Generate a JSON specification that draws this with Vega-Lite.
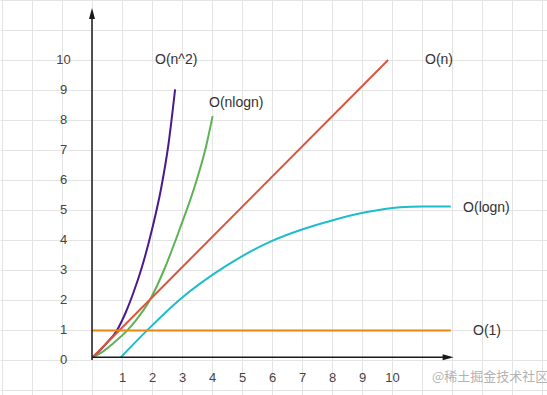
{
  "$schema": "https://vega.github.io/schema/vega-lite/v6.json",
  "width": 547,
  "height": 395,
  "autosize": "none",
  "padding": 0,
  "background": "#ffffff",
  "config": {
    "view": {"stroke": null},
    "axis": {
      "gridColor": "#e4e4e4",
      "gridWidth": 1,
      "domain": false,
      "ticks": false,
      "labelFont": "Liberation Sans",
      "labelFontSize": 13,
      "labelColor": "#444444",
      "title": null
    }
  },
  "datasets": {
    "curves": [
      {"series": "O(n^2)", "x": 0.02, "y": 0.09},
      {"series": "O(n^2)", "x": 0.2, "y": 0.25},
      {"series": "O(n^2)", "x": 0.5, "y": 0.58},
      {"series": "O(n^2)", "x": 0.82, "y": 0.97},
      {"series": "O(n^2)", "x": 1.13, "y": 1.6},
      {"series": "O(n^2)", "x": 1.4, "y": 2.3},
      {"series": "O(n^2)", "x": 1.65, "y": 3.05},
      {"series": "O(n^2)", "x": 2.0, "y": 4.35},
      {"series": "O(n^2)", "x": 2.3, "y": 5.7},
      {"series": "O(n^2)", "x": 2.55, "y": 7.2},
      {"series": "O(n^2)", "x": 2.77, "y": 9.02},
      {"series": "O(nlogn)", "x": 0.02, "y": 0.09},
      {"series": "O(nlogn)", "x": 0.27, "y": 0.22},
      {"series": "O(nlogn)", "x": 0.71, "y": 0.56},
      {"series": "O(nlogn)", "x": 1.16, "y": 0.97},
      {"series": "O(nlogn)", "x": 1.47, "y": 1.33},
      {"series": "O(nlogn)", "x": 1.93, "y": 2.0},
      {"series": "O(nlogn)", "x": 2.4, "y": 3.0},
      {"series": "O(nlogn)", "x": 2.9, "y": 4.3},
      {"series": "O(nlogn)", "x": 3.49, "y": 6.0},
      {"series": "O(nlogn)", "x": 3.8, "y": 7.11},
      {"series": "O(nlogn)", "x": 4.02, "y": 8.13},
      {"series": "O(n)", "x": 0.02, "y": 0.09},
      {"series": "O(n)", "x": 9.87, "y": 10.0},
      {"series": "O(logn)", "x": 0.96, "y": 0.09},
      {"series": "O(logn)", "x": 1.82, "y": 0.97},
      {"series": "O(logn)", "x": 2.91, "y": 2.0},
      {"series": "O(logn)", "x": 4.43, "y": 3.11},
      {"series": "O(logn)", "x": 5.93, "y": 3.94},
      {"series": "O(logn)", "x": 7.0, "y": 4.35},
      {"series": "O(logn)", "x": 8.03, "y": 4.66},
      {"series": "O(logn)", "x": 9.16, "y": 4.93},
      {"series": "O(logn)", "x": 10.27, "y": 5.09},
      {"series": "O(logn)", "x": 11.0, "y": 5.12},
      {"series": "O(logn)", "x": 11.96, "y": 5.12},
      {"series": "O(1)", "x": 0.0, "y": 0.98},
      {"series": "O(1)", "x": 11.96, "y": 0.98}
    ],
    "labels": [
      {"text": "O(n^2)", "x": 2.1, "y": 10.0},
      {"text": "O(nlogn)", "x": 3.9, "y": 8.57},
      {"text": "O(n)", "x": 11.1, "y": 10.0},
      {"text": "O(logn)", "x": 12.37, "y": 5.07},
      {"text": "O(1)", "x": 12.7, "y": 0.97}
    ],
    "axes": [
      {"x": 0.0, "y": 0.0, "x2": 0.0, "y2": 11.4},
      {"x": 0.0, "y": 0.09, "x2": 11.75, "y2": 0.09}
    ],
    "arrows": [
      {"dir": "up", "x": 0.0, "y": 11.55},
      {"dir": "right", "x": 11.87, "y": 0.09}
    ],
    "marks": [
      {"text": "@稀土掘金技术社区", "x": 11.33, "y": -0.57}
    ]
  },
  "encoding": {
    "x": {
      "field": "x",
      "type": "quantitative",
      "scale": {"domain": [-3.0667, 15.1667], "nice": false, "zero": false},
      "axis": {
        "orient": "bottom",
        "offset": -38,
        "values": [-3, -2, -1, 0, 1, 2, 3, 4, 5, 6, 7, 8, 9, 10, 11, 12, 13, 14, 15],
        "grid": true,
        "labelBaseline": "middle",
        "labelPadding": 20,
        "labelExpr": "datum.value >= 1 && datum.value <= 10 ? datum.label : ''"
      }
    },
    "y": {
      "field": "y",
      "type": "quantitative",
      "scale": {"domain": [-1.1667, 12], "nice": false, "zero": false},
      "axis": {
        "orient": "left",
        "offset": -92,
        "values": [-1, 0, 1, 2, 3, 4, 5, 6, 7, 8, 9, 10, 11, 12],
        "grid": true,
        "labelAlign": "center",
        "labelBaseline": "middle",
        "labelPadding": 29,
        "labelExpr": "datum.value >= 0 && datum.value <= 10 ? datum.label : ''"
      }
    }
  },
  "layer": [
    {
      "data": {"name": "curves"},
      "mark": {"type": "line", "interpolate": "monotone", "strokeWidth": 2},
      "encoding": {
        "color": {
          "field": "series",
          "type": "nominal",
          "scale": {
            "domain": ["O(n^2)", "O(nlogn)", "O(n)", "O(logn)", "O(1)"],
            "range": ["#4a1a8c", "#5cb254", "#d9553f", "#1fbccb", "#e8870e"]
          },
          "legend": null
        }
      }
    },
    {
      "data": {"name": "axes"},
      "mark": {"type": "rule", "color": "#1a1a1a", "strokeWidth": 1.5},
      "encoding": {
        "x2": {"field": "x2"},
        "y2": {"field": "y2"}
      }
    },
    {
      "data": {"name": "arrows"},
      "mark": {"type": "point", "filled": true, "color": "#1a1a1a", "opacity": 1, "size": 121},
      "encoding": {
        "shape": {
          "field": "dir",
          "type": "nominal",
          "scale": {
            "domain": ["up", "right"],
            "range": ["M-0.55,1L0,-1L0.55,1Z", "M-1,-0.55L1,0L-1,0.55Z"]
          },
          "legend": null
        }
      }
    },
    {
      "data": {"name": "labels"},
      "mark": {"type": "text", "align": "left", "baseline": "middle", "font": "Liberation Sans", "fontSize": 14, "color": "#333333"},
      "encoding": {"text": {"field": "text"}}
    },
    {
      "data": {"name": "marks"},
      "mark": {"type": "text", "align": "left", "baseline": "middle", "font": "Noto Sans CJK SC", "fontSize": 13, "color": "#b3b3b3"},
      "encoding": {"text": {"field": "text"}}
    }
  ]
}
